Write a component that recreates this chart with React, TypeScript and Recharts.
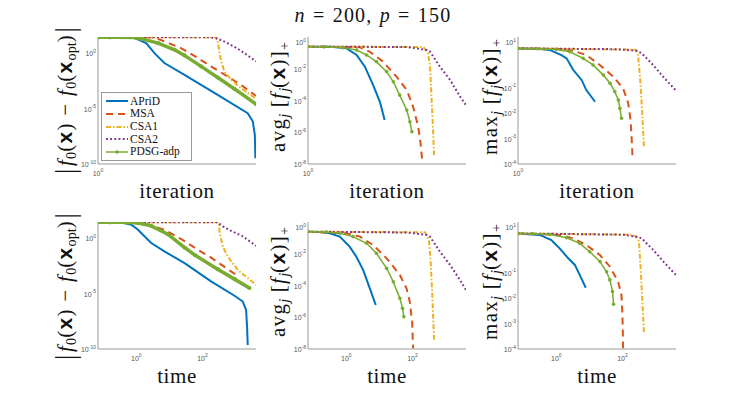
import type { ReactNode } from "react";
import { LineChart, Line, XAxis, YAxis, Legend } from "recharts";

const SERIF = '"Liberation Serif", "DejaVu Serif", serif';
const SANS = '"Liberation Sans", Arial, sans-serif';
const AXIS = "#9a9a9a";

const BLUE = "#0072BD";
const RED = "#D95319";
const YELLOW = "#EDB120";
const PURPLE = "#7E2F8E";
const GREEN = "#77AC30";

// every pair below is [log10(x), log10(y)]

// row 1, x = iteration
const f0IterAPriD = [[0, 1.42], [0.5, 1.42], [0.93, 1.36], [1.22, 0.9], [1.43, 0], [1.68, -0.9], [2.19, -1.96], [3.03, -3.77], [3.79, -5.42], [3.92, -6.17], [3.97, -7.38], [3.985, -9.49]];
const f0IterMSA = [[0, 1.42], [1.35, 1.42], [1.47, 1.36], [1.68, 1.05], [2.1, 0.45], [2.53, -0.45], [2.86, -1.2], [3.28, -2.11], [3.62, -2.86], [4.0, -3.86]];
const f0IterCSA1 = [[0, 1.42], [2.99, 1.42], [3.03, 1.2], [3.07, 0.15], [3.12, -0.75], [3.2, -1.66], [3.37, -2.41], [3.62, -3.16], [4.0, -4.13]];
const f0IterCSA2 = [[0, 1.42], [2.86, 1.42], [3.03, 1.3], [3.28, 0.9], [3.54, 0.39], [3.79, -0.21], [4.0, -0.75]];
const f0IterPDSG = [[0, 1.42], [0.3, 1.42], [0.6, 1.42], [0.93, 1.41], [1.09, 1.3], [1.52, 0.9], [1.94, 0.3], [2.19, -0.21], [2.61, -1.2], [3.03, -2.2], [3.45, -3.22], [4.0, -4.6]];

const avgIterAPriD = [[0, -0.61], [0.6, -0.62], [0.97, -0.71], [1.23, -1.13], [1.44, -1.87], [1.65, -3.03], [1.82, -4.08], [1.94, -5.23]];
const avgIterMSA = [[0, -0.61], [1.31, -0.64], [1.56, -0.92], [1.9, -1.55], [2.24, -2.5], [2.5, -3.34], [2.66, -4.39], [2.79, -5.65], [2.85, -6.7], [2.89, -7.75]];
const avgIterCSA1 = [[0, -0.61], [2.92, -0.63], [3.04, -1.03], [3.09, -1.87], [3.13, -3.97], [3.17, -6.07], [3.19, -7.44]];
const avgIterCSA2 = [[0, -0.61], [2.5, -0.63], [3.0, -0.82], [3.09, -0.92], [3.34, -1.87], [3.6, -2.71], [3.85, -3.76], [4.0, -4.29]];
const avgIterPDSG = [[0, -0.61], [0.4, -0.62], [0.89, -0.67], [1.23, -0.82], [1.48, -1.13], [1.73, -1.55], [1.99, -2.18], [2.16, -2.82], [2.32, -3.66], [2.5, -4.6], [2.58, -5.34], [2.63, -5.97]];

const maxIterAPriD = [[0, 0.55], [0.5, 0.54], [0.8, 0.49], [1.1, 0.29], [1.23, 0.16], [1.4, -0.3], [1.61, -0.69], [1.73, -1.09], [1.95, -1.55]];
const maxIterMSA = [[0, 0.55], [1.1, 0.53], [1.4, 0.46], [1.73, 0.29], [2.07, -0.1], [2.41, -0.56], [2.66, -1.02], [2.79, -1.61], [2.85, -2.27], [2.88, -3.06], [2.9, -3.78]];
const maxIterCSA1 = [[0, 0.55], [2.98, 0.5], [3.04, 0.29], [3.1, -0.82], [3.15, -2.14], [3.19, -3.38]];
const maxIterCSA2 = [[0, 0.55], [2.5, 0.52], [3.0, 0.46], [3.13, 0.36], [3.42, -0.1], [3.67, -0.56], [4.0, -1.11]];
const maxIterPDSG = [[0, 0.55], [0.5, 0.54], [0.97, 0.51], [1.31, 0.42], [1.65, 0.16], [1.9, -0.1], [2.16, -0.5], [2.33, -0.82], [2.45, -1.15], [2.54, -1.48], [2.58, -1.81], [2.62, -2.2]];

// row 2, x = time
const f0TimeAPriD = [[-1.16, 1.42], [-0.46, 1.42], [-0.15, 1.2], [0.05, 0.75], [0.45, -0.45], [0.85, -1.2], [1.46, -2.26], [2.26, -3.9], [2.97, -5.2], [3.22, -5.72], [3.32, -6.48], [3.35, -7.98], [3.37, -9.64]];
const f0TimeMSA = [[-1.16, 1.42], [-0.05, 1.42], [0.4, 1.2], [0.85, 0.75], [1.36, -0.09], [1.84, -1.01], [2.22, -1.68], [3.04, -3.36]];
const f0TimeCSA1 = [[-1.16, 1.42], [2.48, 1.42], [2.5, 1.33], [2.52, 0.43], [2.62, -0.78], [2.77, -1.68], [3.07, -2.88], [3.38, -3.63], [3.62, -4.23]];
const f0TimeCSA2 = [[-1.16, 1.42], [2.46, 1.42], [2.62, 1.05], [2.9, 0.6], [3.2, 0.2], [3.62, -0.7]];
const f0TimePDSG = [[-1.16, 1.42], [-0.8, 1.42], [-0.36, 1.42], [0.05, 1.35], [0.45, 1.1], [0.95, 0.35], [1.46, -0.85], [1.77, -1.53], [2.46, -2.8], [2.97, -3.7], [3.42, -4.5]];

const avgTimeAPriD = [[-1.16, -0.61], [-0.8, -0.63], [-0.5, -0.71], [-0.2, -0.92], [0.1, -1.55], [0.3, -2.18], [0.51, -3.03], [0.71, -4.18], [0.89, -5.23]];
const avgTimeMSA = [[-1.16, -0.61], [0.0, -0.71], [0.41, -0.92], [0.81, -1.45], [1.22, -2.29], [1.62, -3.34], [1.82, -4.18], [1.92, -5.02], [1.99, -6.28], [2.02, -7.96]];
const avgTimeCSA1 = [[-1.16, -0.61], [2.38, -0.65], [2.5, -1.13], [2.55, -2.5], [2.6, -4.6], [2.64, -6.7], [2.66, -7.54]];
const avgTimeCSA2 = [[-1.16, -0.61], [1.82, -0.66], [2.43, -0.82], [2.53, -0.92], [2.83, -1.87], [3.14, -2.71], [3.44, -3.66], [3.62, -4.29]];
const avgTimePDSG = [[-1.16, -0.61], [-0.6, -0.63], [-0.2, -0.71], [0.2, -0.92], [0.61, -1.34], [0.91, -1.97], [1.22, -2.92], [1.42, -3.76], [1.62, -4.81], [1.7, -5.44], [1.74, -5.97]];

const maxTimeAPriD = [[-1.16, 0.55], [-0.5, 0.49], [-0.15, 0.29], [0.1, -0.04], [0.36, -0.43], [0.56, -0.69], [0.71, -1.09], [0.89, -1.59]];
const maxTimeMSA = [[-1.16, 0.55], [0.1, 0.49], [0.51, 0.36], [0.91, 0.09], [1.32, -0.3], [1.62, -0.76], [1.87, -1.35], [1.97, -1.87], [2.0, -2.66], [2.02, -3.97]];
const maxTimeCSA1 = [[-1.16, 0.55], [2.3, 0.5], [2.43, 0.4], [2.5, 0.23], [2.55, -0.82], [2.61, -2.27], [2.65, -3.38]];
const maxTimeCSA2 = [[-1.16, 0.55], [2.02, 0.5], [2.43, 0.42], [2.58, 0.36], [2.93, -0.1], [3.24, -0.56], [3.62, -1.09]];
const maxTimePDSG = [[-1.16, 0.55], [-0.7, 0.54], [-0.2, 0.51], [0.31, 0.38], [0.71, 0.16], [1.01, -0.17], [1.32, -0.56], [1.52, -0.96], [1.62, -1.28], [1.7, -1.74], [1.73, -2.24]];

const iterDomain: [number, number] = [1, 1e4];
const timeDomain: [number, number] = [10 ** -1.16, 10 ** 3.62];
const iterTicks = [1];
const timeTicks = [1, 100];
const f0Domain: [number, number] = [1e-10, 10 ** 1.45];
const f0Ticks = [1e-10, 1e-5, 1];
const avgDomain: [number, number] = [1e-8, 1];
const avgTicks = [1e-8, 1e-6, 1e-4, 1e-2, 1];
const maxDomain: [number, number] = [1e-4, 10];
const maxTicks = [1e-4, 1e-3, 1e-2, 1e-1, 1, 10];

const STYLES = [
  { name: "APriD", color: BLUE, dash: undefined as string | undefined, width: 2, marker: false },
  { name: "MSA", color: RED, dash: "7 5", width: 2, marker: false },
  { name: "CSA1", color: YELLOW, dash: "5 2 1.5 2", width: 2, marker: false },
  { name: "CSA2", color: PURPLE, dash: "1.8 2.4", width: 2, marker: false },
  { name: "PDSG-adp", color: GREEN, dash: undefined as string | undefined, width: 1.5, marker: true },
];

const toPoints = (pairs: number[][]) => pairs.map(([lx, ly]) => ({ x: 10 ** lx, y: 10 ** ly }));

const PLOT_W = 158;
const PLOT_H = 127;
const Y_AXIS_W = 30;
const TOP_PAD = 4;
const RIGHT_PAD = 4;
const X_AXIS_H = 18;

function expOf(v: number) {
  return Math.round(Math.log10(v));
}

function PowTickY(props: any) {
  const { x, y, payload } = props;
  return (
    <text x={x} y={y} dy={3} textAnchor="end" fontSize={7} fill="#555" fontFamily={SANS}>
      10<tspan dy={-3.5} fontSize={5}>{expOf(payload.value)}</tspan>
    </text>
  );
}

function PowTickX(props: any) {
  const { x, y, payload } = props;
  return (
    <text x={x} y={y} dy={11.5} textAnchor="middle" fontSize={7} fill="#555" fontFamily={SANS}>
      10<tspan dy={-3.5} fontSize={5}>{expOf(payload.value)}</tspan>
    </text>
  );
}

function LegendBox() {
  return (
    <div
      style={{
        width: 91,
        height: 69,
        boxSizing: "border-box",
        border: "1px solid #9a9a9a",
        background: "#fff",
        padding: "2px 0 0 3px",
        fontFamily: SERIF,
        fontSize: 11.5,
        color: "#111",
      }}
    >
      {STYLES.map((s) => (
        <div key={s.name} style={{ display: "flex", alignItems: "center", height: 12.7 }}>
          <svg width={24} height={8}>
            <line x1={1} x2={23} y1={4} y2={4} stroke={s.color} strokeWidth={s.width} strokeDasharray={s.dash} />
            {s.marker ? <circle cx={12} cy={4} r={1.8} fill={s.color} /> : null}
          </svg>
          <span style={{ marginLeft: 1, lineHeight: 1 }}>{s.name}</span>
        </div>
      ))}
    </div>
  );
}

type PanelProps = {
  left: number;
  top: number;
  series: number[][][];
  xDomain: [number, number];
  xTicks: number[];
  yDomain: [number, number];
  yTicks: number[];
  thick?: boolean;
  legend?: boolean;
};

function Panel({ left, top, series, xDomain, xTicks, yDomain, yTicks, thick, legend }: PanelProps) {
  const chartLeft = left - Y_AXIS_W;
  const chartTop = top - TOP_PAD;
  return (
    <div style={{ position: "absolute", left: chartLeft, top: chartTop }}>
      <LineChart
        width={Y_AXIS_W + PLOT_W + RIGHT_PAD}
        height={TOP_PAD + PLOT_H + X_AXIS_H}
        margin={{ top: TOP_PAD, right: RIGHT_PAD, bottom: 0, left: 0 }}
      >
        <XAxis
          type="number"
          dataKey="x"
          scale="log"
          domain={xDomain}
          ticks={xTicks}
          allowDataOverflow
          height={X_AXIS_H}
          tickSize={0}
          tickMargin={0}
          tickLine={false}
          axisLine={{ stroke: AXIS }}
          tick={(p: any) => <PowTickX {...p} />}
        />
        <YAxis
          type="number"
          scale="log"
          domain={yDomain}
          ticks={yTicks}
          allowDataOverflow
          width={Y_AXIS_W}
          tickSize={0}
          tickMargin={2}
          tickLine={false}
          axisLine={{ stroke: AXIS }}
          tick={(p: any) => <PowTickY {...p} />}
        />
        <XAxis xAxisId="top" orientation="top" type="number" domain={[0, 1]} height={0} tick={false} tickLine={false} axisLine={{ stroke: AXIS }} />
        <YAxis yAxisId="right" orientation="right" type="number" domain={[0, 1]} width={0} tick={false} tickLine={false} axisLine={{ stroke: AXIS }} />
        {series.map((pairs, i) => {
          const s = STYLES[i];
          const w = s.marker && thick ? 3.5 : s.width;
          return (
            <Line
              key={s.name}
              name={s.name}
              data={toPoints(pairs)}
              dataKey="y"
              type="linear"
              stroke={s.color}
              strokeWidth={w}
              strokeDasharray={s.dash}
              dot={s.marker ? { r: thick ? 2.1 : 1.8, fill: s.color, stroke: s.color, strokeWidth: 0 } : false}
              isAnimationActive={false}
            />
          );
        })}
        {legend ? (
          <Legend
            layout="vertical"
            align="center"
            verticalAlign="middle"
            content={() => <LegendBox />}
            wrapperStyle={{ left: 101 - chartLeft, top: 92 - chartTop, width: 91, height: 69 }}
          />
        ) : null}
      </LineChart>
    </div>
  );
}

const sub = (t: ReactNode) => (
  <span style={{ fontSize: "0.68em", position: "relative", top: "0.3em", letterSpacing: 0 }}>{t}</span>
);
const bar = <span style={{ display: "inline-block", transform: "scaleY(1.45)", margin: "0 2px" }}>|</span>;
const bx = <b style={{ fontFamily: SANS }}>x</b>;

function VLabel({ cx, cy, children }: { cx: number; cy: number; children: ReactNode }) {
  return (
    <div
      style={{
        position: "absolute",
        left: cx,
        top: cy,
        transform: "translate(-50%, -50%) rotate(-90deg)",
        whiteSpace: "nowrap",
        fontFamily: SERIF,
        fontSize: 21,
        letterSpacing: 1.3,
        lineHeight: 1,
        color: "#111",
      }}
    >
      {children}
    </div>
  );
}

function HLabel({ cx, cy, children }: { cx: number; cy: number; children: ReactNode }) {
  return (
    <div
      style={{
        position: "absolute",
        left: cx,
        top: cy,
        transform: "translate(-50%, -50%)",
        whiteSpace: "nowrap",
        fontFamily: SERIF,
        fontSize: 21,
        letterSpacing: 0.6,
        lineHeight: 1,
        color: "#111",
      }}
    >
      {children}
    </div>
  );
}

const f0Label = (
  <>
    {bar}
    <i>f</i>
    {sub("0")}({bx}) − <i>f</i>
    {sub("0")}({bx}
    {sub("opt")}){bar}
  </>
);
const avgLabel = (
  <>
    avg{sub(<i>j</i>)} [<i>f</i>
    {sub(<i>j</i>)}({bx})]{sub("+")}
  </>
);
const maxLabel = (
  <>
    max{sub(<i>j</i>)} [<i>f</i>
    {sub(<i>j</i>)}({bx})]{sub("+")}
  </>
);

const COLS = [98, 308, 518];
const ROWS = [37, 222];

export default function App() {
  return (
    <div style={{ position: "absolute", left: 0, top: 0, width: 747, height: 399, background: "#fff", overflow: "hidden" }}>
      <HLabel cx={373} cy={15}>
        <span style={{ fontSize: 20, letterSpacing: 1.2, wordSpacing: 1 }}>
          <i>n</i> = 200, <i>p</i> = 150
        </span>
      </HLabel>

      <Panel left={COLS[0]} top={ROWS[0]} series={[f0IterAPriD, f0IterMSA, f0IterCSA1, f0IterCSA2, f0IterPDSG]} xDomain={iterDomain} xTicks={iterTicks} yDomain={f0Domain} yTicks={f0Ticks} thick legend />
      <Panel left={COLS[1]} top={ROWS[0]} series={[avgIterAPriD, avgIterMSA, avgIterCSA1, avgIterCSA2, avgIterPDSG]} xDomain={iterDomain} xTicks={iterTicks} yDomain={avgDomain} yTicks={avgTicks} />
      <Panel left={COLS[2]} top={ROWS[0]} series={[maxIterAPriD, maxIterMSA, maxIterCSA1, maxIterCSA2, maxIterPDSG]} xDomain={iterDomain} xTicks={iterTicks} yDomain={maxDomain} yTicks={maxTicks} />

      <Panel left={COLS[0]} top={ROWS[1]} series={[f0TimeAPriD, f0TimeMSA, f0TimeCSA1, f0TimeCSA2, f0TimePDSG]} xDomain={timeDomain} xTicks={timeTicks} yDomain={f0Domain} yTicks={f0Ticks} thick />
      <Panel left={COLS[1]} top={ROWS[1]} series={[avgTimeAPriD, avgTimeMSA, avgTimeCSA1, avgTimeCSA2, avgTimePDSG]} xDomain={timeDomain} xTicks={timeTicks} yDomain={avgDomain} yTicks={avgTicks} />
      <Panel left={COLS[2]} top={ROWS[1]} series={[maxTimeAPriD, maxTimeMSA, maxTimeCSA1, maxTimeCSA2, maxTimePDSG]} xDomain={timeDomain} xTicks={timeTicks} yDomain={maxDomain} yTicks={maxTicks} />

      <VLabel cx={65} cy={100}>{f0Label}</VLabel>
      <VLabel cx={278} cy={97}>{avgLabel}</VLabel>
      <VLabel cx={490} cy={97}>{maxLabel}</VLabel>
      <VLabel cx={65} cy={286}>{f0Label}</VLabel>
      <VLabel cx={278} cy={282}>{avgLabel}</VLabel>
      <VLabel cx={490} cy={282}>{maxLabel}</VLabel>

      <HLabel cx={177} cy={191}>iteration</HLabel>
      <HLabel cx={387} cy={191}>iteration</HLabel>
      <HLabel cx={597} cy={191}>iteration</HLabel>
      <HLabel cx={177} cy={376}>time</HLabel>
      <HLabel cx={387} cy={376}>time</HLabel>
      <HLabel cx={597} cy={376}>time</HLabel>
    </div>
  );
}
